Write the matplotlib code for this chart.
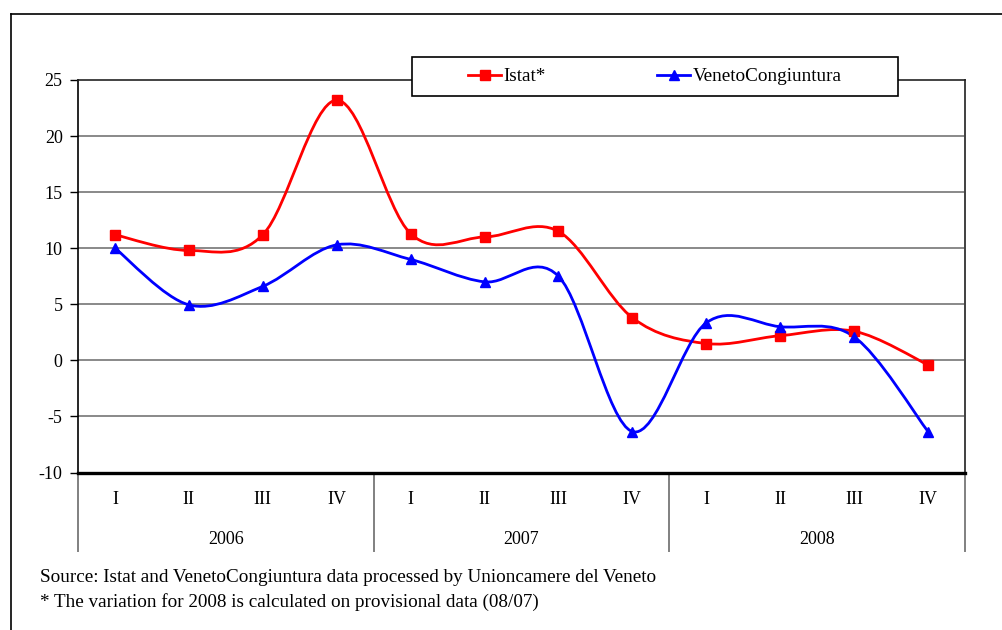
import matplotlib
matplotlib.use("Agg")
import matplotlib.pyplot as plt
from matplotlib.path import Path
from matplotlib.patches import PathPatch, Rectangle
from matplotlib.lines import Line2D
import matplotlib.transforms as mtransforms

plt.rcParams['font.family'] = ['Liberation Serif', 'DejaVu Serif']
plt.rcParams['axes.unicode_minus'] = False

quarters = ["I", "II", "III", "IV"] * 3
years = ["2006", "2007", "2008"]
istat = [11.2, 9.8, 11.2, 23.2, 11.3, 11.0, 11.5, 3.8, 1.5, 2.2, 2.6, -0.4]
veneto = [10.0, 4.95, 6.6, 10.3, 9.0, 7.0, 7.5, -6.35, 3.35, 3.0, 2.1, -6.35]
series_names = ["Istat*", "VenetoCongiuntura"]
yticks = [-10, -5, 0, 5, 10, 15, 20, 25]
source_lines = ["Source: Istat and VenetoCongiuntura data processed by Unioncamere del Veneto",
                "* The variation for 2008 is calculated on provisional data (08/07)"]

W, H = 1003, 630
fig = plt.figure(figsize=(W / 100, H / 100), dpi=100)

def fx(px):
    return px / W

def fy(py):
    return 1 - py / H

# outer frame (open on right and bottom)
fig.add_artist(Line2D([fx(11), fx(11)], [0, fy(14)], color="black", lw=1.2))
fig.add_artist(Line2D([fx(11), 1.0], [fy(14), fy(14)], color="black", lw=1.2))

left, right, top, bottom = 78, 965, 80, 472.5
ax = fig.add_axes([fx(left), fy(bottom), fx(right) - fx(left), fy(top) - fy(bottom)])

x = list(range(len(istat)))
ax.set_xlim(-0.5, len(istat) - 0.5)
ax.set_ylim(-10, 25)
ax.set_yticks(yticks)
ax.set_yticklabels([str(t) for t in yticks])
ax.tick_params(axis='y', direction='out', length=6, width=1, labelsize=13, pad=5, colors='black')
ax.set_xticks([])
for yv in yticks[1:-1]:
    ax.axhline(yv, color="#808080", lw=1.3, zorder=1)

ax.spines['left'].set_color('black')
ax.spines['left'].set_linewidth(1.2)
ax.spines['bottom'].set_color('black')
ax.spines['bottom'].set_linewidth(2.4)
ax.spines['top'].set_color('#222222')
ax.spines['top'].set_linewidth(1.2)
ax.spines['right'].set_color('#404040')
ax.spines['right'].set_linewidth(1.4)


def smooth_path(xs, ys):
    verts = [(xs[0], ys[0])]
    codes = [Path.MOVETO]
    n = len(xs)
    for i in range(n - 1):
        p0 = i - 1 if i > 0 else i
        p3 = i + 2 if i + 2 < n else i + 1
        c1 = (xs[i] + (xs[i + 1] - xs[p0]) / 6, ys[i] + (ys[i + 1] - ys[p0]) / 6)
        c2 = (xs[i + 1] - (xs[p3] - xs[i]) / 6, ys[i + 1] - (ys[p3] - ys[i]) / 6)
        verts += [c1, c2, (xs[i + 1], ys[i + 1])]
        codes += [Path.CURVE4] * 3
    return Path(verts, codes)


for vals, col, mk, ms in [(istat, "#FF0000", "s", 7), (veneto, "#0000FF", "^", 7.5)]:
    ax.add_patch(PathPatch(smooth_path(x, vals), facecolor="none", edgecolor=col, lw=2.0,
                           zorder=3, capstyle='round', joinstyle='round'))
    ax.plot(x, vals, linestyle="none", marker=mk, markersize=ms, color=col, zorder=4)

# category axis labels and separators
trans = mtransforms.blended_transform_factory(ax.transData, ax.transAxes)
sep_bottom = -(551 - bottom) / (bottom - top)
for xv in [-0.5, 3.5, 7.5, 11.5]:
    ax.add_line(Line2D([xv, xv], [0, sep_bottom], transform=trans, color="#808080",
                       lw=1.4, clip_on=False))
qy = -(500 - bottom) / (bottom - top)
yy = -(540 - bottom) / (bottom - top)
for i, q in enumerate(quarters):
    ax.text(i, qy, q, transform=trans, ha="center", va="center", fontsize=13)
for j, yr in enumerate(years):
    ax.text(4 * j + 1.5, yy, yr, transform=trans, ha="center", va="center", fontsize=13)

# legend box
fig.add_artist(Rectangle((fx(412), fy(96)), fx(898) - fx(412), fy(57) - fy(96),
                         facecolor="white", edgecolor="black", lw=1.2, zorder=5,
                         transform=fig.transFigure))
handles = [Line2D([], [], color="#FF0000", lw=2.0, marker="s", markersize=6.5),
           Line2D([], [], color="#0000FF", lw=2.0, marker="^", markersize=7)]
leg = fig.legend(handles, series_names, loc="center", bbox_to_anchor=(fx(655), fy(76.5)),
                 ncol=2, frameon=False, fontsize=13.8, handlelength=1.7, handletextpad=0.15,
                 columnspacing=5.8)
leg.set_zorder(6)

fig.text(fx(40), fy(578), source_lines[0], ha="left", va="center", fontsize=13.8)
fig.text(fx(40), fy(602), source_lines[1], ha="left", va="center", fontsize=13.8)

fig.savefig("out.png", dpi=100)
